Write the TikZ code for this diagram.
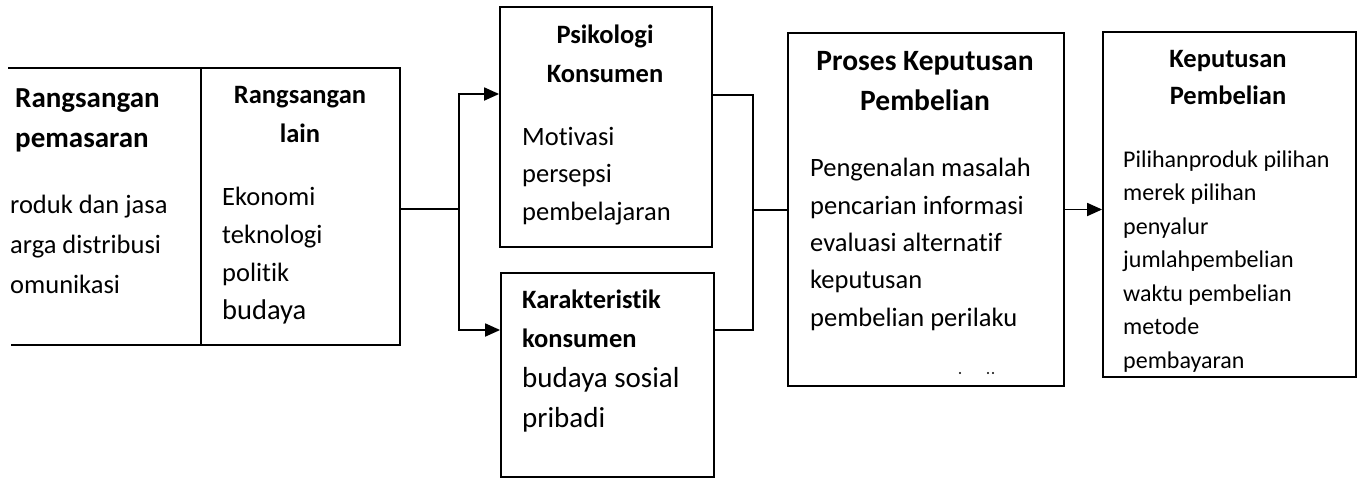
\documentclass[tikz,border=0pt]{standalone}
\usepackage{fontspec}
\setmainfont{Carlito}[Ligatures=NoCommon]
\usetikzlibrary{arrows.meta}
\tikzset{
  box/.style={draw, line width=1.8pt, inner sep=0pt},
  conn/.style={line width=1.8pt},
  arr/.style={conn, -{Triangle[length=15pt,width=13pt]}},
  txt/.style={inner sep=0pt, anchor=base west, align=left},
  head/.style={inner sep=0pt, anchor=base, align=center, font=\bfseries\fontsize{26.5}{39}\selectfont},
}
\begin{document}
\begin{tikzpicture}[x=1pt,y=-1pt]
\useasboundingbox (0,0) rectangle (1362,479);
\fill[white] (0,0) rectangle (1362,479);
% boxes
\node[box, minimum width=199pt, minimum height=277pt] (lain) at (300.5,206.5) {};
\node[box, minimum width=212pt, minimum height=240pt] (psi) at (606,127) {};
\node[box, minimum width=213pt, minimum height=204pt] (kar) at (607.5,375) {};
\node[box, minimum width=276pt, minimum height=353pt] (pro) at (926,209.5) {};
\node[box, minimum width=253pt, minimum height=345pt] (kep) at (1229.5,204.5) {};
% open left part
\coordinate (lt) at (8,68);
\coordinate (lb) at (11,345);
\draw[conn] (lt) -- (lt -| lain.north west);
\draw[conn] (lb) -- (lb -| lain.south west);
% connectors
\coordinate (j1) at (459,209);
\coordinate (ja) at (459,94);
\coordinate (jb) at (459,330);
\draw[conn] (lain.east |- j1) -- (j1);
\draw[arr] (j1) -- (ja) -- (ja -| psi.west);
\draw[arr] (j1) -- (jb) -- (jb -| kar.west);
\coordinate (k1) at (753,210);
\coordinate (ka) at (753,95);
\coordinate (kb) at (753,330);
\draw[conn] (psi.east |- ka) -- (ka) -- (kb) -- (kb -| kar.east);
\draw[conn] (k1) -- (k1 -| pro.west);
\draw[arr] (pro.east) -- (pro.east -| kep.west);
% texts (anchor = baseline of last line)
\node[txt, font=\bfseries\fontsize{29}{40}\selectfont] (t1) at (15,147) {Rangsangan\\pemasaran};
\node[txt, font=\fontsize{26.5}{40}\selectfont] (t2) at (10,293) {roduk dan jasa\\arga distribusi\\omunikasi};
\node[head] (t3) at (300,142) {Rangsangan\\lain};
\node[txt, font=\fontsize{26.5}{37.7}\selectfont] (t4) at (222,319) {Ekonomi\\teknologi\\politik\\{\fontsize{28.5}{37.7}\selectfont budaya}};
\node[head] (t5) at (605,82) {Psikologi\\Konsumen};
\node[txt, font=\fontsize{26.5}{37.5}\selectfont] (t6) at (522,220) {Motivasi\\persepsi\\pembelajaran};
\node[txt, font=\bfseries\fontsize{26.5}{39}\selectfont] (t7) at (522,347) {Karakteristik\\konsumen};
\node[txt, font=\fontsize{29}{40}\selectfont] (t8) at (522,427) {budaya sosial\\pribadi};
\node[head, font=\bfseries\fontsize{29.5}{40}\selectfont] (t9) at (925,110) {Proses Keputusan\\Pembelian};
\node[txt, font=\fontsize{26.5}{37.3}\selectfont] (t10) at (810,326) {Pengenalan masalah\\pencarian informasi\\evaluasi alternatif\\keputusan\\pembelian perilaku};
\node[head, font=\bfseries\fontsize{26.5}{37}\selectfont] (t11) at (1228,104) {Keputusan\\Pembelian};
\node[txt, font=\fontsize{24}{33.5}\selectfont] (t12) at (1123,368) {Pilihanproduk pilihan\\merek pilihan\\penyalur\\jumlahpembelian\\waktu pembelian\\metode\\pembayaran};
% specks
\fill (960,373) circle (1.2pt);
\fill (988,373) circle (1.1pt);
\fill (993,373) circle (1.1pt);
\end{tikzpicture}
\end{document}
